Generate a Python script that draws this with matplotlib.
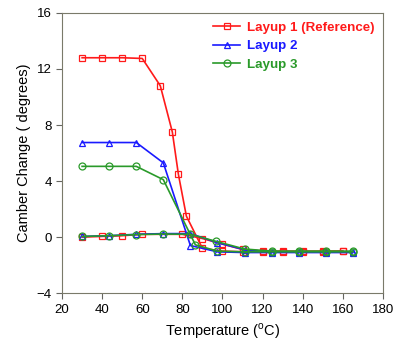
import matplotlib
matplotlib.use("Agg")
import matplotlib.pyplot as plt

plt.rcParams['font.family'] = ['Liberation Sans', 'DejaVu Sans']
plt.rcParams['mathtext.fontset'] = 'custom'
plt.rcParams['mathtext.rm'] = 'Liberation Sans'

# Layup 1 (Reference): heating run then cooling run
t1_heat = [30, 40, 50, 60, 69, 75, 78, 82, 90, 100, 110, 120, 130, 140, 150, 160]
c1_heat = [12.8, 12.8, 12.8, 12.75, 10.8, 7.5, 4.5, 1.5, -0.8, -1.0, -1.05, -1.05, -1.05, -1.05, -1.05, -1.0]
t1_cool = [160, 150, 140, 130, 120, 110, 100, 90, 80, 60, 50, 40, 30]
c1_cool = [-1.0, -1.0, -1.0, -1.0, -1.0, -0.88, -0.5, -0.1, 0.2, 0.2, 0.1, 0.05, 0.0]

# Layup 2
t2_heat = [30, 43.5, 57, 70.5, 84, 97.5, 111, 124.5, 138, 151.5, 165]
c2_heat = [6.75, 6.75, 6.75, 5.3, -0.6, -1.05, -1.1, -1.1, -1.1, -1.1, -1.1]
t2_cool = [165, 151.5, 138, 124.5, 111, 97.5, 84, 70.5, 57, 43.5, 30]
c2_cool = [-1.05, -1.05, -1.05, -1.05, -0.9, -0.4, 0.25, 0.25, 0.2, 0.1, 0.05]

# Layup 3
t3_heat = [30, 43.5, 57, 70.5, 86.5, 97.5, 111, 124.5, 138, 151.5, 165]
c3_heat = [5.05, 5.05, 5.05, 4.1, -0.55, -1.0, -1.05, -1.05, -1.05, -1.05, -1.05]
t3_cool = [165, 151.5, 138, 124.5, 111, 96.7, 84, 70.5, 57, 43.5, 30]
c3_cool = [-1.0, -1.0, -1.0, -1.0, -0.85, -0.3, 0.2, 0.22, 0.18, 0.1, 0.05]

labels = ['Layup 1 (Reference)', 'Layup 2', 'Layup 3']
colors = ['#ff1a1a', '#1a1aff', '#2a9a2a']
markers = ['s', '^', 'o']

fig = plt.figure(figsize=(4.03, 3.49), dpi=100)
ax = fig.add_axes([0.154, 0.160, 0.796, 0.803])

runs = [(t1_heat, c1_heat, t1_cool, c1_cool),
        (t2_heat, c2_heat, t2_cool, c2_cool),
        (t3_heat, c3_heat, t3_cool, c3_cool)]

handles = []
for (th, ch, tc, cc), lab, col, mk in zip(runs, labels, colors, markers):
    style = dict(color=col, marker=mk, markersize=5, markerfacecolor='none',
                 markeredgewidth=0.9, linewidth=1.2)
    h, = ax.plot(th, ch, label=lab, **style)
    ax.plot(tc, cc, **style)
    handles.append(h)

ax.set_xlim(20, 180)
ax.set_ylim(-4, 16)
ax.set_xticks(range(20, 181, 20))
ax.set_yticks(range(-4, 17, 4))
ax.tick_params(direction='out', length=4, width=0.8, colors='#666660',
               labelcolor='black', labelsize=9.5)
ax.tick_params(top=False, right=False)
for s in ax.spines.values():
    s.set_color('#7a7a6a')
    s.set_linewidth(0.8)

ax.set_xlabel('Temperature ($^{\\mathrm{o}}$C)', fontsize=10.5)
ax.set_ylabel('Camber Change ( degrees)', fontsize=10.5)

leg = ax.legend(handles=handles, loc='upper right', frameon=False,
                handlelength=2.0, handletextpad=0.5,
                labelspacing=0.45, borderaxespad=0.25,
                prop={'weight': 'bold', 'size': 9.6})
for txt, col in zip(leg.get_texts(), colors):
    txt.set_color(col)

fig.savefig('out.png', dpi=100)
